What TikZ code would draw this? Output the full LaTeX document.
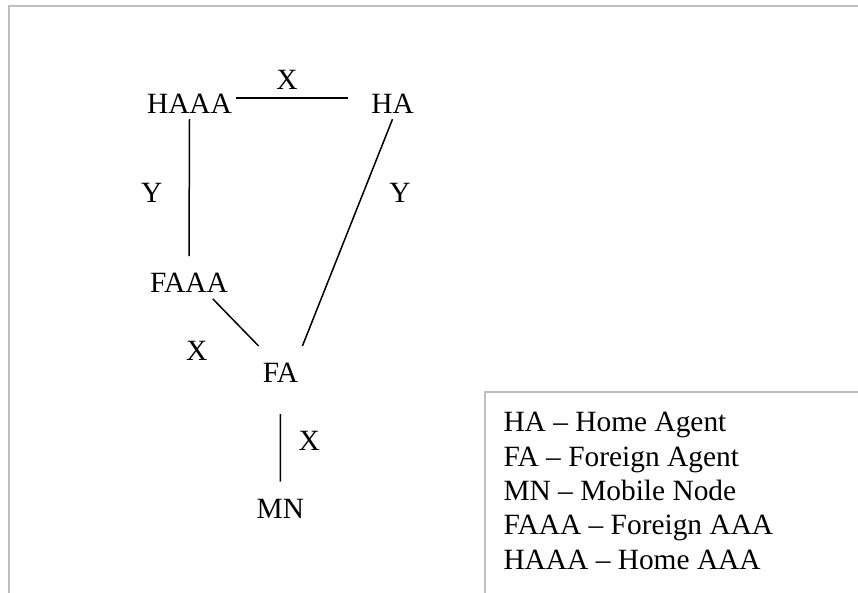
\documentclass[tikz,border=0pt]{standalone}
\usepackage{fontspec}
\setmainfont{Liberation Serif}
\usetikzlibrary{positioning, calc}

\begin{document}
\begin{tikzpicture}[
    x=1pt, y=-1pt,
    every node/.style={font=\fontsize{29.4}{34.4}\selectfont, inner sep=0pt},
    entity/.style={
        anchor=base, inner xsep=4pt, inner ysep=0pt,
        text height=36.5pt, text depth=6pt
    },
    linklabel/.style={anchor=base},
    link/.style={line width=1.5pt, black},
    frameline/.style={line width=2pt, black!25},
]

\useasboundingbox (0,0) rectangle (858,592);

% =====================================================================
%  OUTER FRAME (open to the right and to the bottom)
% =====================================================================
\draw[frameline] (870,5.7) -- (9,5.7) -- (9,600);

% =====================================================================
%  ENTITIES
% =====================================================================
\node[entity] (HAAA) at (189.5,113)   {HAAA};
\node[entity] (HA)   at (392.5,113)   {HA};
\node[entity] (FAAA) at (189,292.7)   {FAAA};
\node[entity] (FA)   at (280.5,382.7) {FA};
\node[entity] (MN)   at (280.3,518.3) {MN};

% Interfaces
\draw[link, shorten >=19pt] (HAAA.east) -- (HA.west);
\draw[link] (HAAA.south) -- (FAAA.north);
\draw[link] (HA.south) -- (FA.north east);
\draw[link] (FAAA.-42) -- (FA.north west);
\draw[link, shorten <=25.3pt] (FA.south) -- (MN.north);

% Interface labels
\node[linklabel] (xtop)   at (287,89)      {X};
\node[linklabel] (yleft)  at (151.7,202.7) {Y};
\node[linklabel] (yright) at (400,202.7)   {Y};
\node[linklabel] (xleft)  at (196.7,360)   {X};
\node[linklabel] (xlow)   at (309.3,450)   {X};

% =====================================================================
%  LEGEND
% =====================================================================
\node[draw=black!25, line width=2pt, anchor=north west,
      minimum width=480pt, minimum height=300pt] (legendbox) at (483.7,391) {};
\node[anchor=north west, align=left]
    (legend) at ([xshift=19.6pt, yshift=-21pt]legendbox.north west)
    {HA -- Home Agent\\
     FA -- Foreign Agent\\
     MN -- Mobile Node\\
     FAAA -- Foreign AAA\\
     HAAA -- Home AAA};

\end{tikzpicture}
\end{document}
